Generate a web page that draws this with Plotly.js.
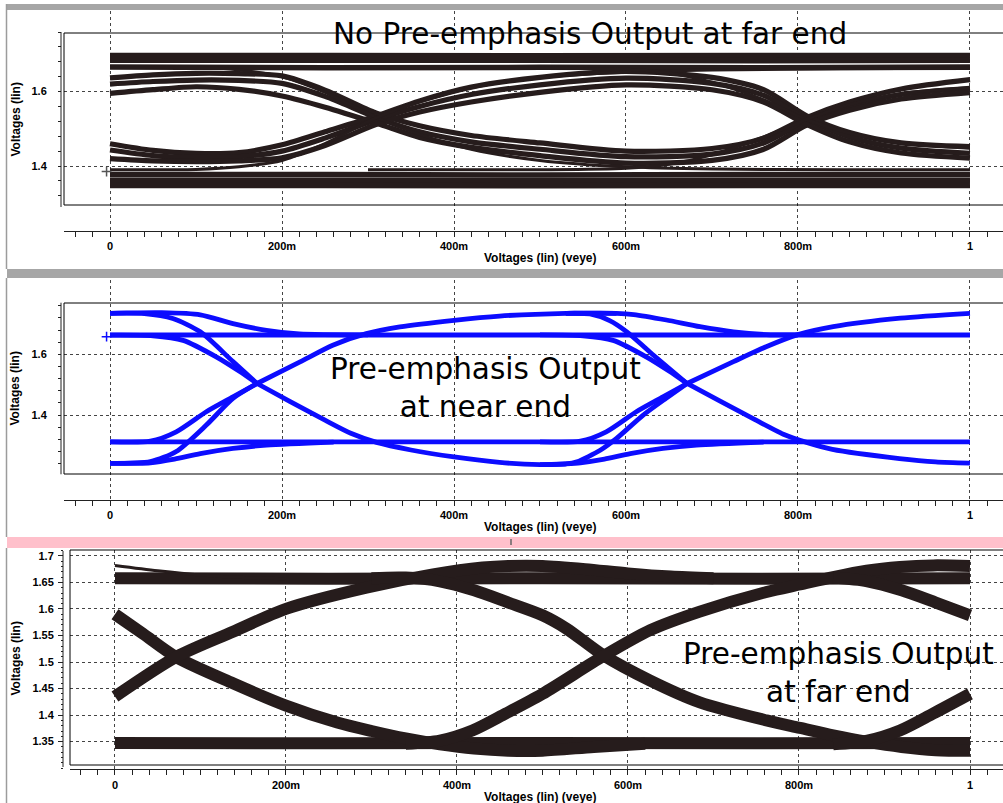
<!DOCTYPE html>
<html><head><meta charset="utf-8">
<script src="https://cdn.plot.ly/plotly-3.0.1.min.js"></script>
<style>html,body{margin:0;padding:0;background:#fff;overflow:hidden}#chart{width:1003px;height:803px}</style>
</head><body><div id="chart"></div>
<script>
// ===================== DATA =====================
const xTickVals = [0, 0.2, 0.4, 0.6, 0.8, 1];
const xTickText = ['0', '200m', '400m', '600m', '800m', '1'];
const p1YTicks = [1.4, 1.6];
const p1YMinor = [1.32, 1.36, 1.40, 1.44, 1.48, 1.52, 1.56, 1.60, 1.64, 1.68, 1.72, 1.76];
const p2YTicks = [1.4, 1.6];
const p2YMinor = [1.24, 1.28, 1.32, 1.36, 1.40, 1.44, 1.48, 1.52, 1.56, 1.60, 1.64, 1.68, 1.72, 1.76];
const p3YTicks = [1.35, 1.4, 1.45, 1.5, 1.55, 1.6, 1.65, 1.7];
const p3YTickText = ['1.35', '1.4', '1.45', '1.5', '1.55', '1.6', '1.65', '1.7'];
const titleP1 = 'No Pre-emphasis Output at far end';
const titleP2 = 'Pre-emphasis Output<br>at near end';
const titleP3 = 'Pre-emphasis Output<br>at far end';
const xTitle = 'Voltages (lin) (veye)';
const yTitle = 'Voltages (lin)';

// ---- Panel 1: no pre-emphasis, far end ----
const p1FlatX = [0, 0.25, 0.5, 0.75, 1.0];
const p1Top1 = [1.697, 1.697, 1.696, 1.697, 1.697];
const p1Top2 = [1.684, 1.684, 1.684, 1.683, 1.684];
const p1Top3 = [1.666, 1.664, 1.665, 1.664, 1.666];
const p1Bot1 = [1.377, 1.377, 1.376, 1.377, 1.377];
const p1Bot2 = [1.362, 1.362, 1.361, 1.362, 1.362];
const p1Bot3 = [1.348, 1.348, 1.347, 1.348, 1.348];
const p1X  = [0, 0.05, 0.1, 0.15, 0.2, 0.25, 0.31, 0.36, 0.42, 0.5, 0.6, 0.7, 0.76, 0.81, 0.86, 0.92, 1.0];
const p1A1 = [1.637, 1.645, 1.649, 1.648, 1.642, 1.604, 1.542, 1.508, 1.482, 1.462, 1.440, 1.447, 1.475, 1.530, 1.572, 1.607, 1.632];
const p1A2 = [1.620, 1.627, 1.631, 1.630, 1.622, 1.587, 1.530, 1.492, 1.465, 1.445, 1.425, 1.432, 1.462, 1.522, 1.560, 1.592, 1.609];
const p1A3 = [1.595, 1.605, 1.613, 1.606, 1.588, 1.558, 1.515, 1.477, 1.450, 1.428, 1.408, 1.415, 1.445, 1.510, 1.550, 1.580, 1.597];
const p1B1 = [1.460, 1.442, 1.434, 1.436, 1.457, 1.492, 1.535, 1.575, 1.612, 1.638, 1.654, 1.638, 1.605, 1.535, 1.490, 1.462, 1.452];
const p1B2 = [1.443, 1.428, 1.423, 1.425, 1.440, 1.475, 1.525, 1.560, 1.592, 1.618, 1.636, 1.622, 1.590, 1.525, 1.478, 1.448, 1.434];
const p1B3 = [1.420, 1.414, 1.412, 1.414, 1.422, 1.455, 1.512, 1.545, 1.572, 1.598, 1.618, 1.605, 1.572, 1.512, 1.465, 1.435, 1.421];
const p1TaX = [0, 0.1, 0.15, 0.2, 0.25, 0.31, 0.36, 0.42, 0.5, 0.6, 0.7, 0.85, 1.0];
const p1TaFall = [1.666, 1.665, 1.658, 1.640, 1.598, 1.530, 1.485, 1.445, 1.415, 1.398, 1.392, 1.390, 1.390];
const p1TaRise = [1.390, 1.391, 1.398, 1.415, 1.460, 1.530, 1.572, 1.610, 1.638, 1.652, 1.658, 1.661, 1.662];
const p1TbX = [0.3, 0.5, 0.6, 0.65, 0.7, 0.76, 0.81, 0.86, 0.92, 1.0];
const p1TbFall = [1.663, 1.663, 1.660, 1.650, 1.625, 1.578, 1.525, 1.488, 1.462, 1.448];
const p1TbRise = [1.390, 1.390, 1.394, 1.405, 1.430, 1.478, 1.525, 1.565, 1.595, 1.610];
const p1MarkX = [-0.004];
const p1MarkY = [1.385];

// ---- Panel 2: pre-emphasis, near end ----
const p2FlatX = [0, 0.5, 1.0];
const p2FlatHi = [1.6636, 1.6636, 1.6636];
const p2FlatLo = [1.3118, 1.3118, 1.3118];
const p2SettleHi1X = [0, 0.06, 0.105, 0.143, 0.182, 0.22, 0.3];
const p2SettleHi1Y = [1.735, 1.737, 1.730, 1.701, 1.679, 1.667, 1.664];
const p2FallTop1X = [0, 0.04, 0.073, 0.105, 0.143, 0.171];
const p2FallTop1Y = [1.735, 1.734, 1.718, 1.674, 1.576, 1.504];
const p2FallMid1X = [0, 0.05, 0.085, 0.124, 0.15, 0.171];
const p2FallMid1Y = [1.663, 1.661, 1.646, 1.591, 1.545, 1.504];
const p2FallTail1X = [0.171, 0.209, 0.25, 0.28, 0.31, 0.35, 0.4, 0.453, 0.5, 0.53];
const p2FallTail1Y = [1.504, 1.445, 1.383, 1.340, 1.310, 1.285, 1.262, 1.244, 1.237, 1.239];
const p2RiseBot1X = [0, 0.047, 0.077, 0.112, 0.143, 0.171];
const p2RiseBot1Y = [1.241, 1.247, 1.280, 1.367, 1.455, 1.504];
const p2RiseMid1X = [0, 0.047, 0.077, 0.112, 0.143, 0.171];
const p2RiseMid1Y = [1.312, 1.314, 1.345, 1.411, 1.460, 1.504];
const p2RiseTail1X = [0.171, 0.221, 0.259, 0.298, 0.337, 0.4, 0.453, 0.53, 0.589];
const p2RiseTail1Y = [1.504, 1.575, 1.630, 1.668, 1.690, 1.712, 1.726, 1.735, 1.735];
const p2SettleLo1X = [0, 0.047, 0.075, 0.105, 0.143, 0.182, 0.26];
const p2SettleLo1Y = [1.241, 1.243, 1.255, 1.273, 1.290, 1.301, 1.311];
const p2SettleHi2X = [0.53, 0.589, 0.609, 0.647, 0.686, 0.725, 0.763, 0.8];
const p2SettleHi2Y = [1.735, 1.735, 1.731, 1.713, 1.691, 1.674, 1.665, 1.664];
const p2FallTop2X = [0.53, 0.558, 0.581, 0.601, 0.628, 0.671];
const p2FallTop2Y = [1.735, 1.733, 1.711, 1.674, 1.607, 1.504];
const p2FallMid2X = [0.5, 0.55, 0.585, 0.624, 0.65, 0.671];
const p2FallMid2Y = [1.664, 1.661, 1.646, 1.591, 1.545, 1.504];
const p2FallTail2X = [0.671, 0.71, 0.75, 0.783, 0.81, 0.84, 0.918, 0.96, 1.0];
const p2FallTail2Y = [1.504, 1.445, 1.385, 1.337, 1.310, 1.287, 1.257, 1.246, 1.242];
const p2RiseBot2X = [0.5, 0.53, 0.543, 0.57, 0.589, 0.62, 0.647, 0.671];
const p2RiseBot2Y = [1.237, 1.239, 1.246, 1.284, 1.323, 1.400, 1.456, 1.504];
const p2RiseMid2X = [0.5, 0.547, 0.577, 0.612, 0.643, 0.671];
const p2RiseMid2Y = [1.312, 1.314, 1.345, 1.411, 1.460, 1.504];
const p2RiseTail2X = [0.671, 0.725, 0.763, 0.799, 0.841, 0.919, 1.0];
const p2RiseTail2Y = [1.504, 1.576, 1.625, 1.664, 1.691, 1.719, 1.735];
const p2SettleLo2X = [0.53, 0.547, 0.575, 0.605, 0.643, 0.682, 0.76];
const p2SettleLo2Y = [1.239, 1.243, 1.255, 1.273, 1.290, 1.301, 1.311];
const p2MarkX = [-0.004];
const p2MarkY = [1.658];

// ---- Panel 3: pre-emphasis, far end ----
const p3FlatX = [0, 0.25, 0.5, 0.75, 1.0];
const p3TopBand = [1.658, 1.657, 1.658, 1.657, 1.658];
const p3BotBand = [1.3475, 1.347, 1.3475, 1.347, 1.3475];
const p3Over0X = [0, 0.05, 0.1, 0.15, 0.2];
const p3Over0Y = [1.682, 1.672, 1.664, 1.659, 1.657];
const p3Fall1X = [0, 0.033, 0.072, 0.138, 0.2, 0.26, 0.3, 0.34, 0.38, 0.42, 0.46, 0.5, 0.56, 0.62];
const p3Fall1Y = [1.590, 1.553, 1.509, 1.460, 1.418, 1.386, 1.370, 1.356, 1.345, 1.337, 1.333, 1.333, 1.340, 1.346];
const p3Rise1X = [0, 0.072, 0.138, 0.2, 0.294, 0.372, 0.43, 0.46, 0.5, 0.55, 0.6, 0.65, 0.7];
const p3Rise1Y = [1.435, 1.510, 1.557, 1.600, 1.640, 1.665, 1.678, 1.681, 1.681, 1.675, 1.667, 1.661, 1.658];
const p3Fall2X = [0.3, 0.34, 0.38, 0.42, 0.46, 0.5, 0.528, 0.571, 0.626, 0.684, 0.762, 0.801, 0.84, 0.879, 0.92, 0.96, 1.0];
const p3Fall2Y = [1.658, 1.659, 1.652, 1.635, 1.612, 1.588, 1.563, 1.513, 1.465, 1.424, 1.390, 1.376, 1.362, 1.350, 1.340, 1.334, 1.333];
const p3Rise2X = [0.34, 0.38, 0.418, 0.457, 0.5, 0.571, 0.626, 0.684, 0.762, 0.801, 0.84, 0.879, 0.918, 0.957, 1.0];
const p3Rise2Y = [1.346, 1.352, 1.371, 1.403, 1.440, 1.511, 1.560, 1.595, 1.632, 1.646, 1.660, 1.672, 1.679, 1.682, 1.681];
const p3Fall3X = [0.84, 0.88, 0.92, 0.96, 1.0];
const p3Fall3Y = [1.659, 1.652, 1.635, 1.612, 1.588];
const p3Rise3X = [0.84, 0.88, 0.918, 0.957, 1.0];
const p3Rise3Y = [1.345, 1.352, 1.371, 1.403, 1.440];

// ===================== STYLE / BUILD =====================
const W = 1003, H = 803;
const fx = px => px / W;
const fy = py => 1 - py / H;
const DARK = 'rgb(38,28,28)';
const BLUE = 'rgb(12,12,255)';

function seg(xs, ys, xa, ya, color, width, smooth) {
  return {type: 'scatter', mode: 'lines', x: xs, y: ys, xaxis: xa, yaxis: ya,
    line: {color: color, width: width, shape: 'spline', smoothing: smooth == null ? 0.8 : smooth},
    hoverinfo: 'skip', showlegend: false};
}
function mark(xs, ys, xa, ya, color) {
  return {type: 'scatter', mode: 'markers', x: xs, y: ys, xaxis: xa, yaxis: ya,
    marker: {symbol: 'cross-thin', size: 7, line: {color: color, width: 1.5}},
    hoverinfo: 'skip', showlegend: false, cliponaxis: false};
}

const traces = [];
// panel 1
[p1Top1, p1Top2, p1Top3, p1Bot1, p1Bot2, p1Bot3].forEach(ys => traces.push(seg(p1FlatX, ys, 'x', 'y', DARK, 5.5, 0)));
[p1A1, p1A2, p1A3, p1B1, p1B2, p1B3].forEach(ys => traces.push(seg(p1X, ys, 'x', 'y', DARK, 5.2)));
traces.push(seg(p1TaX, p1TaFall, 'x', 'y', DARK, 3));
traces.push(seg(p1TaX, p1TaRise, 'x', 'y', DARK, 3));
traces.push(seg(p1TbX, p1TbFall, 'x', 'y', DARK, 3));
traces.push(seg(p1TbX, p1TbRise, 'x', 'y', DARK, 3));
traces.push(mark(p1MarkX, p1MarkY, 'x', 'y', '#555'));

// panel 2
[[p2FlatX, p2FlatHi], [p2FlatX, p2FlatLo],
 [p2SettleHi1X, p2SettleHi1Y], [p2FallTop1X, p2FallTop1Y], [p2FallMid1X, p2FallMid1Y], [p2FallTail1X, p2FallTail1Y],
 [p2RiseBot1X, p2RiseBot1Y], [p2RiseMid1X, p2RiseMid1Y], [p2RiseTail1X, p2RiseTail1Y], [p2SettleLo1X, p2SettleLo1Y],
 [p2SettleHi2X, p2SettleHi2Y], [p2FallTop2X, p2FallTop2Y], [p2FallMid2X, p2FallMid2Y], [p2FallTail2X, p2FallTail2Y],
 [p2RiseBot2X, p2RiseBot2Y], [p2RiseMid2X, p2RiseMid2Y], [p2RiseTail2X, p2RiseTail2Y], [p2SettleLo2X, p2SettleLo2Y]
].forEach(([xs, ys]) => traces.push(seg(xs, ys, 'x2', 'y2', BLUE, 4.8, 0.7)));
traces.push(mark(p2MarkX, p2MarkY, 'x2', 'y2', BLUE));

// panel 3
[[p3FlatX, p3TopBand], [p3FlatX, p3BotBand]].forEach(([xs, ys]) => traces.push(seg(xs, ys, 'x3', 'y3', DARK, 12, 0)));
traces.push(seg(p3Over0X, p3Over0Y, 'x3', 'y3', DARK, 3));
[[p3Fall1X, p3Fall1Y], [p3Rise1X, p3Rise1Y], [p3Fall2X, p3Fall2Y], [p3Rise2X, p3Rise2Y],
 [p3Fall3X, p3Fall3Y], [p3Rise3X, p3Rise3Y]
].forEach(([xs, ys]) => traces.push(seg(xs, ys, 'x3', 'y3', DARK, 12)));

const tickFont = {family: 'Liberation Sans, Arial, sans-serif', size: 11, color: '#000', weight: 'bold'};
function xAxis(domain, range, anchor) {
  return {domain: domain, range: range, anchor: anchor, tickmode: 'array', tickvals: xTickVals, ticktext: xTickText,
    ticks: 'outside', ticklen: 5, tickwidth: 1, tickcolor: '#222', showline: true, linecolor: '#222', linewidth: 1,
    showgrid: true, gridcolor: '#444', griddash: '3px,3px', gridwidth: 1, zeroline: false, tickfont: tickFont,
    minor: {tickmode: 'linear', tick0: 0, dtick: 0.02, ticks: 'outside', ticklen: 5, tickwidth: 1, tickcolor: '#222', showgrid: false},
    fixedrange: true};
}
function yAxis(domain, range, pos, tickvals, ticktext, minor, tlen, standoff) {
  const a = {domain: domain, range: range, anchor: 'free', position: pos, tickmode: 'array', tickvals: tickvals,
    ticks: 'outside', ticklen: tlen, tickwidth: 1, tickcolor: '#222', showline: false, zeroline: false,
    showgrid: true, gridcolor: '#444', griddash: '3px,3px', gridwidth: 1, tickfont: tickFont,
    ticklabelstandoff: standoff,
    minor: Object.assign({ticks: 'outside', tickwidth: 1, tickcolor: '#222', showgrid: false}, minor),
    fixedrange: true};
  if (ticktext) a.ticktext = ticktext;
  return a;
}

const layout = {
  width: W, height: H, margin: {l: 0, r: 0, t: 0, b: 0}, paper_bgcolor: '#fff', plot_bgcolor: 'rgba(0,0,0,0)',
  showlegend: false,
  xaxis: xAxis([fx(64), 1], [-0.0535, 1.0384], 'y'),
  yaxis: yAxis([fy(231), fy(11)], [1.2255, 1.8164], fx(61), p1YTicks, null,
               {tickmode: 'array', tickvals: p1YMinor, ticklen: 3}, 3, 9),
  xaxis2: xAxis([fx(64), 1], [-0.0535, 1.0384], 'y2'),
  yaxis2: yAxis([fy(500), fy(280)], [1.1204, 1.8447], fx(61), p2YTicks, null,
                {tickmode: 'array', tickvals: p2YMinor, ticklen: 3}, 3, 9),
  xaxis3: xAxis([fx(70), 1], [-0.0526, 1.0386], 'y3'),
  yaxis3: yAxis([fy(769.3), fy(550)], [1.2979, 1.711], fx(63), p3YTicks, p3YTickText,
                {tickmode: 'linear', tick0: 0, dtick: 0.01, ticklen: 2.5}, 5, 2),
  shapes: [
    // panel chrome
    {type: 'rect', xref: 'paper', yref: 'paper', x0: fx(7), x1: 1, y0: fy(10), y1: fy(4), fillcolor: '#a6a6a6', line: {width: 0}},
    {type: 'rect', xref: 'paper', yref: 'paper', x0: fx(7), x1: 1, y0: fy(278), y1: fy(269), fillcolor: '#a6a6a6', line: {width: 0}},
    {type: 'rect', xref: 'paper', yref: 'paper', x0: fx(7), x1: 1, y0: fy(548), y1: fy(537), fillcolor: '#ffc0cb', line: {width: 0}},
    {type: 'line', xref: 'paper', yref: 'paper', x0: fx(6.5), x1: fx(6.5), y0: fy(4), y1: fy(269), line: {color: '#9c9c9c', width: 1.5}},
    {type: 'line', xref: 'paper', yref: 'paper', x0: fx(6.5), x1: fx(6.5), y0: fy(278), y1: fy(537), line: {color: '#9c9c9c', width: 1.5}},
    {type: 'line', xref: 'paper', yref: 'paper', x0: fx(6.5), x1: fx(6.5), y0: fy(548), y1: 0, line: {color: '#9c9c9c', width: 1.5}},
    {type: 'line', xref: 'paper', yref: 'paper', x0: fx(511), x1: fx(511), y0: fy(545), y1: fy(539), line: {color: '#666', width: 1.5}},
    // y-axis lines
    {type: 'line', xref: 'paper', yref: 'paper', x0: fx(61), x1: fx(61), y0: fy(207), y1: fy(32), line: {color: '#222', width: 1}},
    {type: 'line', xref: 'paper', yref: 'paper', x0: fx(61), x1: fx(61), y0: fy(474.3), y1: fy(302.7), line: {color: '#222', width: 1}},
    {type: 'line', xref: 'paper', yref: 'paper', x0: fx(63), x1: fx(63), y0: fy(767), y1: fy(551), line: {color: '#222', width: 1}},
    // plot boxes
    {type: 'rect', xref: 'paper', yref: 'paper', x0: fx(64), x1: 1.01, y0: fy(205), y1: fy(33), line: {color: '#000', width: 1}, fillcolor: 'rgba(0,0,0,0)'},
    {type: 'rect', xref: 'paper', yref: 'paper', x0: fx(64), x1: 1.01, y0: fy(474), y1: fy(303), line: {color: '#000', width: 1}, fillcolor: 'rgba(0,0,0,0)'},
    {type: 'rect', xref: 'paper', yref: 'paper', x0: fx(70), x1: 1.01, y0: fy(765), y1: fy(550), line: {color: '#000', width: 1}, fillcolor: 'rgba(0,0,0,0)'}
  ],
  annotations: []
};

const bigFont = {family: 'DejaVu Sans, sans-serif', size: 29.5, color: '#000'};
const axFont = {family: 'Liberation Sans, Arial, sans-serif', size: 12, color: '#000', weight: 'bold'};
function ann(text, px, py, font, extra) {
  return Object.assign({text: text, xref: 'paper', yref: 'paper', x: fx(px), y: fy(py), xanchor: 'center', yanchor: 'middle',
    showarrow: false, font: font, align: 'center'}, extra || {});
}
layout.annotations.push(ann(titleP1, 590, 34, bigFont));
layout.annotations.push(ann(titleP2, 485, 388, bigFont));
layout.annotations.push(ann(titleP3, 838, 673, bigFont));
[258, 527, 797].forEach(py => layout.annotations.push(ann(xTitle, 540, py, axFont)));
[119.5, 388.5, 658.5].forEach(py => layout.annotations.push(ann(yTitle, 15, py, axFont, {textangle: -90})));

Plotly.newPlot('chart', traces, layout, {staticPlot: true, displayModeBar: false});
</script>
</body></html>
